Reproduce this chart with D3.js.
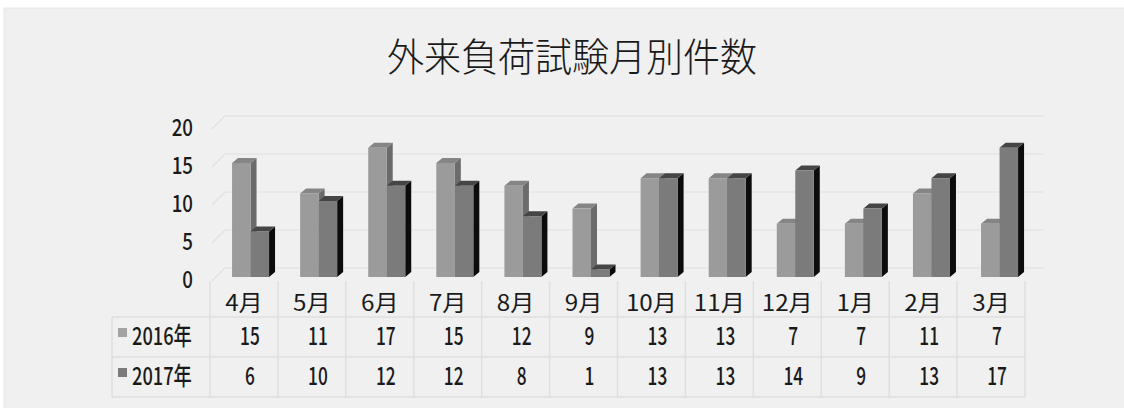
<!DOCTYPE html>
<html>
<head>
<meta charset="utf-8">
<script src="https://cdn.jsdelivr.net/npm/d3@7"></script>
<style>
  html, body { margin: 0; padding: 0; background: #ffffff; }
  svg { display: block; }
  text { font-family: "Noto Sans CJK JP", "Noto Sans", sans-serif; fill: #1a1a1a; }
</style>
</head>
<body>
<svg id="chart" width="1124" height="408"></svg>
<script>
// Monthly counts of outpatient load tests (fiscal year order, April to March)
const months = ["4月", "5月", "6月", "7月", "8月", "9月", "10月", "11月", "12月", "1月", "2月", "3月"];
const seriesNames = ["2016年", "2017年"];
const values2016 = [15, 11, 17, 15, 12, 9, 13, 13, 7, 7, 11, 7];
const values2017 = [6, 10, 12, 12, 8, 1, 13, 13, 14, 9, 13, 17];
const yTicks = [0, 5, 10, 15, 20];
const title = "外来負荷試験月別件数";

const series = [values2016, values2017];

const svg = d3.select("#chart");

// panel background
svg.append("rect")
  .attr("x", 4).attr("y", 8).attr("width", 1122).attr("height", 402)
  .attr("fill", "#eff0ef").attr("stroke", "#e6e7e6");

// title
svg.append("text")
  .attr("transform", "translate(572, 71) scale(1, 1.05)")
  .attr("text-anchor", "middle")
  .attr("font-size", 37)
  .attr("font-weight", 300)
  .attr("fill", "#222")
  .text(title);

// 3D geometry: depth of the floor and of each bar
const wallDepth = 13;        // front edge to back wall offset (px right / px up)
const barDx = 6, barDy = 5;   // bar depth

// bar plane scale (front faces of the bars)
const y = d3.scaleLinear().domain([0, 20]).range([277, 125]);
const backOffset = -9;   // back wall sits 9px above the bar plane
const frontOffset = 4;   // front edge of floor sits 4px below the bar plane

const wallLeft = 225, wallRight = 1044;

// category scales: one for the bar groups, one for the data table
const xBars = d3.scaleBand().domain(months).range([216.5, 1033.6]).paddingInner(0).paddingOuter(0);
const xTable = d3.scaleBand().domain(months).range([210, 1025]);

// gridlines on the back wall plus their receding edge on the side wall
const grid = svg.append("g").attr("class", "grid");
yTicks.forEach(t => {
  const yb = y(t) + backOffset;
  grid.append("line")
    .attr("x1", wallLeft).attr("x2", wallRight)
    .attr("y1", yb).attr("y2", yb)
    .attr("stroke", "#dfe0df").attr("stroke-width", 1.2);
  grid.append("line")
    .attr("x1", wallLeft - wallDepth).attr("y1", yb + wallDepth)
    .attr("x2", wallLeft).attr("y2", yb)
    .attr("stroke", "#dfe0df").attr("stroke-width", 1.2);
});

// y axis labels (front plane)
const yAxis = svg.append("g").attr("class", "y-axis");
yTicks.forEach(t => {
  yAxis.append("text")
    .attr("transform", `translate(193, ${y(t) + frontOffset + 7}) scale(0.85, 1.05)`)
    .attr("text-anchor", "end")
    .attr("font-size", 22)
    .attr("font-weight", 500)
    .text(t);
});

// bar styling per series: front, top and side faces
const faces = [
  { front: "#9b9b9b", top: "#858585", side: "#6b6b6b", swatch: "#a3a3a3" },
  { front: "#7b7b7b", top: "#454545", side: "#0c0c0c", swatch: "#7b7b7b" }
];
const barW = 18.5;

const bars = svg.append("g").attr("class", "bars");
months.forEach((m, i) => {
  const cx = xBars(m) + xBars.bandwidth() / 2;
  series.forEach((vals, s) => {
    const v = vals[i];
    const x0 = cx - barW + s * barW;
    const x1 = x0 + barW;
    const yt = y(v), yb = y(0);
    const g = bars.append("g");
    // side face
    g.append("path")
      .attr("d", `M${x1},${yt} L${x1 + barDx},${yt - barDy} L${x1 + barDx},${yb - barDy} L${x1},${yb} Z`)
      .attr("fill", faces[s].side);
    // top face
    g.append("path")
      .attr("d", `M${x0},${yt} L${x0 + barDx},${yt - barDy} L${x1 + barDx},${yt - barDy} L${x1},${yt} Z`)
      .attr("fill", faces[s].top);
    // front face
    g.append("rect")
      .attr("x", x0).attr("y", yt)
      .attr("width", barW).attr("height", yb - yt)
      .attr("fill", faces[s].front);
  });
});

// data table below the plot
const table = svg.append("g").attr("class", "table");
const rowTop = 281, headerBottom = 317, row1Bottom = 357, row2Bottom = 397;
const legendLeft = 112;
const lineColor = "#dedfde";

// horizontal rules
[headerBottom, row1Bottom, row2Bottom].forEach(yy => {
  table.append("line")
    .attr("x1", legendLeft).attr("x2", xTable.range()[1])
    .attr("y1", yy).attr("y2", yy)
    .attr("stroke", lineColor).attr("stroke-width", 1.5);
});
// vertical rules between month columns
months.forEach(m => {
  const xx = xTable(m);
  table.append("line")
    .attr("x1", xx).attr("x2", xx)
    .attr("y1", rowTop).attr("y2", row2Bottom)
    .attr("stroke", lineColor).attr("stroke-width", 1.5);
});
table.append("line")
  .attr("x1", xTable.range()[1]).attr("x2", xTable.range()[1])
  .attr("y1", rowTop).attr("y2", row2Bottom)
  .attr("stroke", lineColor).attr("stroke-width", 1.5);
table.append("line")
  .attr("x1", legendLeft).attr("x2", legendLeft)
  .attr("y1", headerBottom).attr("y2", row2Bottom)
  .attr("stroke", lineColor).attr("stroke-width", 1.5);

// month labels
months.forEach(m => {
  table.append("text")
    .attr("transform", `translate(${xTable(m) + xTable.bandwidth() / 2}, 311) scale(1.1, 1.02)`)
    .attr("text-anchor", "middle")
    .attr("font-size", 22)
    .text(m);
});

// series rows: legend key plus values
const rowBaselines = [345, 385];
series.forEach((vals, s) => {
  const base = rowBaselines[s];
  table.append("rect")
    .attr("x", 118).attr("y", base - 17)
    .attr("width", 9).attr("height", 9)
    .attr("fill", faces[s].swatch);
  table.append("text")
    .attr("transform", `translate(132, ${base}) scale(0.76, 1.02)`)
    .attr("font-size", 24)
    .attr("font-weight", 500)
    .text(seriesNames[s]);
  vals.forEach((v, i) => {
    table.append("text")
      .attr("transform", `translate(${xTable(months[i]) + xTable.bandwidth() / 2 + 6}, ${base}) scale(0.72, 1.02)`)
      .attr("text-anchor", "middle")
      .attr("font-size", 24)
      .attr("font-weight", 500)
      .text(v);
  });
});
</script>
</body>
</html>
